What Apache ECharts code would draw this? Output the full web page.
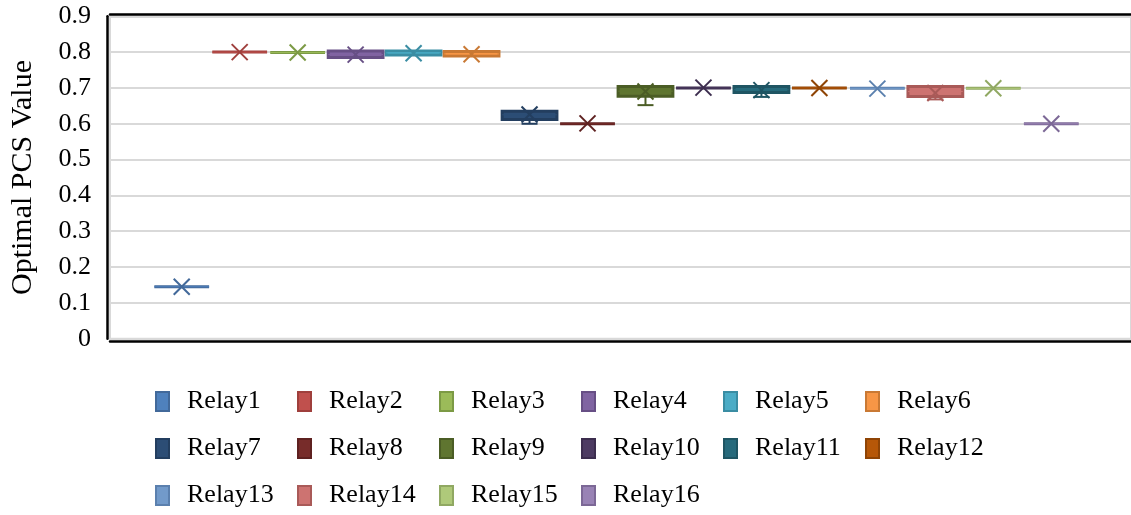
<!DOCTYPE html>
<html>
<head>
<meta charset="utf-8">
<script src="https://cdn.jsdelivr.net/npm/echarts@6/dist/echarts.min.js"></script>
<style>
  html, body { margin: 0; padding: 0; background: #fff; }
  #chart { width: 1131px; height: 515px; }
</style>
</head>
<body>
<div id="chart"></div>
<script>
// relay names (one box per relay)
const relays = [
  "Relay1", "Relay2", "Relay3", "Relay4", "Relay5", "Relay6", "Relay7", "Relay8",
  "Relay9", "Relay10", "Relay11", "Relay12", "Relay13", "Relay14", "Relay15", "Relay16",
];
// five-number summary + mean
const minVals = [0.145, 0.800, 0.799, 0.785, 0.792, 0.789, 0.600, 0.600, 0.652, 0.700, 0.675, 0.700, 0.699, 0.668, 0.699, 0.600];
const q1Vals = [0.145, 0.800, 0.799, 0.785, 0.792, 0.789, 0.612, 0.600, 0.677, 0.700, 0.687, 0.700, 0.699, 0.676, 0.699, 0.600];
const medianVals = [0.145, 0.800, 0.799, 0.793, 0.798, 0.795, 0.625, 0.600, 0.691, 0.700, 0.695, 0.700, 0.699, 0.690, 0.699, 0.600];
const q3Vals = [0.145, 0.800, 0.799, 0.803, 0.803, 0.802, 0.635, 0.600, 0.704, 0.700, 0.704, 0.700, 0.699, 0.704, 0.699, 0.600];
const maxVals = [0.145, 0.800, 0.799, 0.803, 0.803, 0.802, 0.635, 0.600, 0.704, 0.700, 0.704, 0.700, 0.699, 0.704, 0.699, 0.600];
const meanVals = [0.145, 0.800, 0.799, 0.793, 0.797, 0.794, 0.626, 0.601, 0.690, 0.701, 0.694, 0.700, 0.698, 0.686, 0.699, 0.600];
const yTicks = ["0", "0.1", "0.2", "0.3", "0.4", "0.5", "0.6", "0.7", "0.8", "0.9"];

const fillColors = [
  "#4F81BD", "#C0504D", "#9BBB59", "#8064A2", "#4BACC6", "#F79646", "#2C4D75", "#772C2A",
  "#5F7530", "#4D3B62", "#276A7C", "#B65708", "#729ACA", "#CD7371", "#AFC97A", "#9983B5",
];
const lineColors = [
  "#42699A", "#9F3F3C", "#7C9A45", "#674F85", "#3A8DA3", "#C97934", "#233E5F", "#5E2120",
  "#4B5D25", "#3C2D4E", "#1F5563", "#8F4405", "#5B80AE", "#A95A58", "#90A862", "#7C6896",
];

const fontFam = "'Liberation Serif', 'Times New Roman', serif";

function renderBox(params, api) {
  const x = api.value(0);
  const pMin = api.coord([x, api.value(1)]);
  const pQ1 = api.coord([x, api.value(2)]);
  const pMed = api.coord([x, api.value(3)]);
  const pQ3 = api.coord([x, api.value(4)]);
  const pMax = api.coord([x, api.value(5)]);
  const pMean = api.coord([x, api.value(6)]);
  const w = api.size([0.945, 0])[0];
  const cx = pQ1[0];
  const idx = params.seriesIndex;
  const stroke = lineColors[idx];
  const fill = fillColors[idx];
  const cap = 8;
  const m = 8;
  const children = [];
  if (pMin[1] - pQ1[1] > 1) {
    children.push({ type: "line", shape: { x1: cx, y1: pQ1[1], x2: cx, y2: pMin[1] }, style: { stroke, lineWidth: 2 } });
    children.push({ type: "line", shape: { x1: cx - cap, y1: pMin[1], x2: cx + cap, y2: pMin[1] }, style: { stroke, lineWidth: 2 } });
  }
  if (pQ3[1] - pMax[1] > 1) {
    children.push({ type: "line", shape: { x1: cx, y1: pQ3[1], x2: cx, y2: pMax[1] }, style: { stroke, lineWidth: 2 } });
    children.push({ type: "line", shape: { x1: cx - cap, y1: pMax[1], x2: cx + cap, y2: pMax[1] }, style: { stroke, lineWidth: 2 } });
  }
  children.push({
    type: "rect",
    shape: { x: cx - w / 2, y: pQ3[1], width: w, height: pQ1[1] - pQ3[1] },
    style: { fill, stroke, lineWidth: 3 },
  });
  children.push({ type: "line", shape: { x1: cx - w / 2, y1: pMed[1], x2: cx + w / 2, y2: pMed[1] }, style: { stroke: fill, lineWidth: 1 } });
  children.push({ type: "line", shape: { x1: pMean[0] - m, y1: pMean[1] - m, x2: pMean[0] + m, y2: pMean[1] + m }, style: { stroke, lineWidth: 2 } });
  children.push({ type: "line", shape: { x1: pMean[0] - m, y1: pMean[1] + m, x2: pMean[0] + m, y2: pMean[1] - m }, style: { stroke, lineWidth: 2 } });
  return { type: "group", children };
}

const series = relays.map((name, i) => ({
  name,
  type: "custom",
  renderItem: renderBox,
  itemStyle: { color: fillColors[i], borderColor: lineColors[i], borderWidth: 1 },
  encode: { x: 0, y: [1, 2, 3, 4, 5] },
  data: [[i + 1, minVals[i], q1Vals[i], medianVals[i], q3Vals[i], maxVals[i], meanVals[i]]],
}));

const chartOption = {
  animation: false,
  backgroundColor: "#fff",
  textStyle: { fontFamily: fontFam },
  grid: {
    left: 108,
    right: -2,
    top: 16.3,
    bottom: 176.3,
    show: true,
    borderColor: "#d9d9d9",
    borderWidth: 2,
  },
  legend: {
    data: relays,
    left: 150,
    top: 378,
    width: 870,
    itemGap: 10,
    itemWidth: 13,
    itemHeight: 19,
    icon: "rect",
    textStyle: {
      fontFamily: fontFam,
      fontSize: 26,
      color: "#000",
      width: 100,
      lineHeight: 37,
      padding: [0, 0, 0, 13],
    },
  },
  xAxis: [
    {
      type: "value",
      min: -0.237,
      max: 17.375,
      offset: 3,
      axisLine: { show: true, onZero: false, lineStyle: { color: "#000", width: 2.5 } },
      axisTick: { show: false },
      axisLabel: { show: false },
      splitLine: { show: false },
    },
    {
      type: "value",
      position: "top",
      min: -0.237,
      max: 17.375,
      offset: 2,
      axisLine: { show: true, onZero: false, lineStyle: { color: "#000", width: 2.5 } },
      axisTick: { show: false },
      axisLabel: { show: false },
      splitLine: { show: false },
    },
  ],
  yAxis: {
    type: "value",
    min: 0,
    max: 0.9,
    interval: 0.1,
    offset: 3,
    name: "Optimal PCS Value",
    nameLocation: "middle",
    nameGap: 69,
    nameTextStyle: { fontFamily: fontFam, fontSize: 30, color: "#000" },
    axisLine: { show: true, onZero: false, lineStyle: { color: "#000", width: 2.5 } },
    axisTick: { show: false },
    axisLabel: {
      margin: 16,
      fontFamily: fontFam,
      fontSize: 26,
      color: "#000",
      formatter: (v) => yTicks[Math.round(v * 10)],
    },
    splitLine: { lineStyle: { color: "#d9d9d9", width: 2 } },
  },
  series,
};

const myChart = echarts.init(document.getElementById("chart"));
myChart.setOption(chartOption);
window.onresize = () => {
  myChart.resize();
};
</script>
</body>
</html>
